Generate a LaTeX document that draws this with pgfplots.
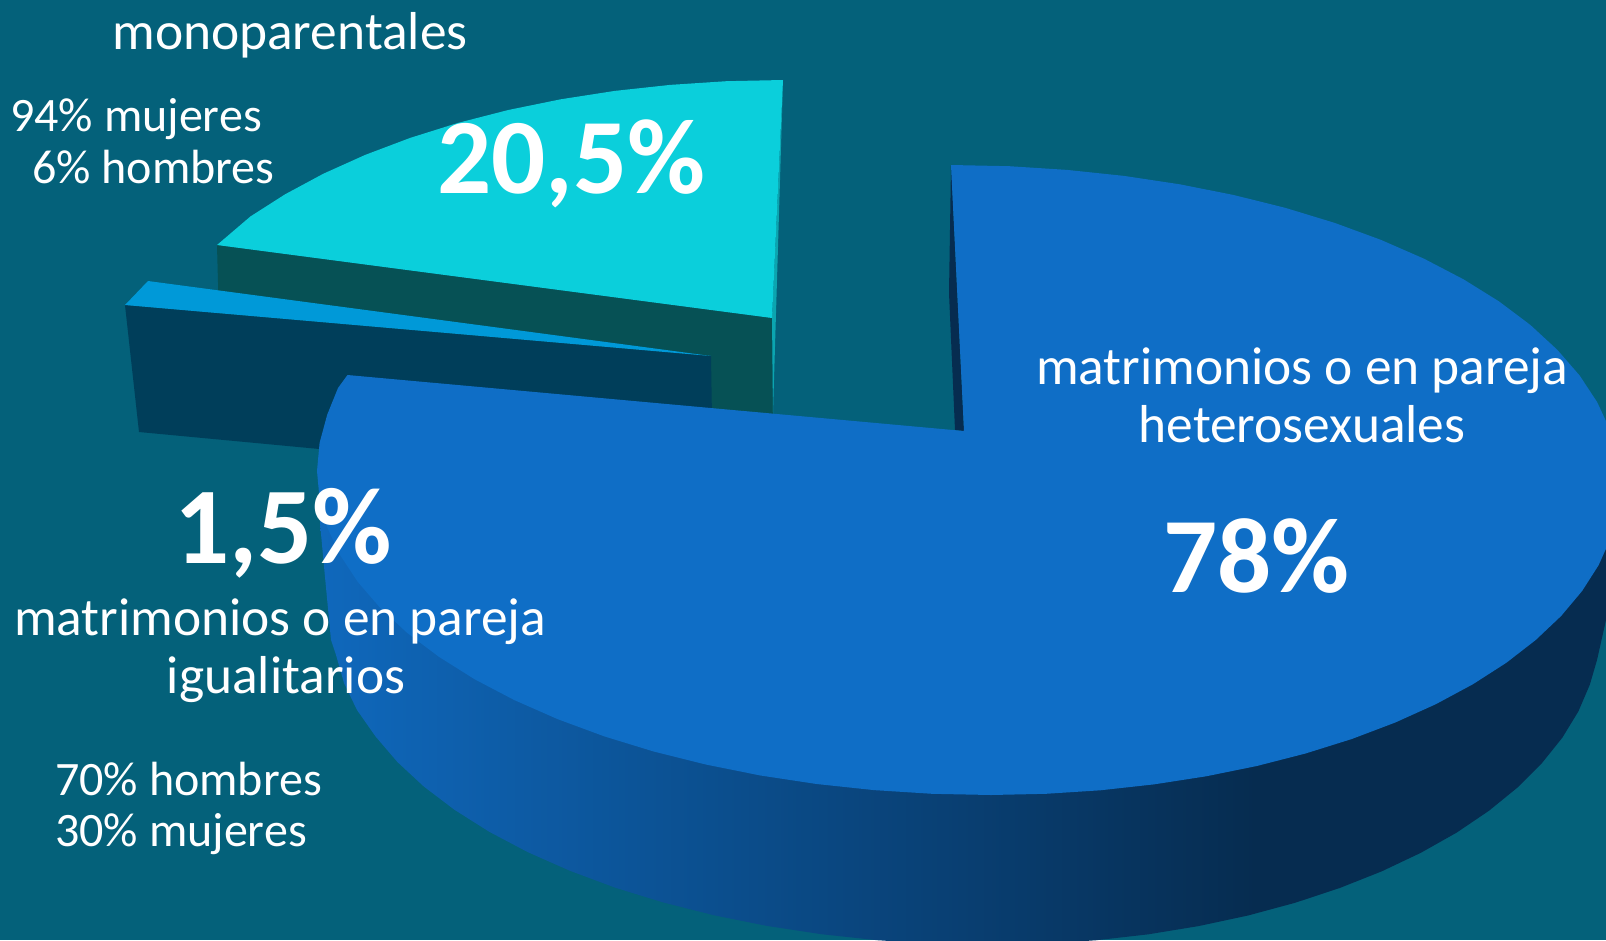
\documentclass[border=0pt]{standalone}
\usepackage{fontspec}
\setmainfont{Carlito}
\usepackage{pgfplots}
\pgfplotsset{compat=1.18}
\definecolor{bgc}{RGB}{4,97,122}
\definecolor{topblue}{RGB}{15,110,198}
\definecolor{cyanw}{RGB}{11,207,219}
\definecolor{cyans}{RGB}{11,165,176}
\definecolor{tealw}{RGB}{6,81,85}
\definecolor{lightw}{RGB}{0,153,216}
\definecolor{lights}{RGB}{0,62,90}
\definecolor{darkw}{RGB}{6,44,80}
\definecolor{wallA}{RGB}{15,104,188}
\pgfdeclarehorizontalshading{wall}{100bp}{color(0bp)=(wallA); color(25bp)=(wallA); color(61bp)=(darkw); color(100bp)=(darkw)}
\newcommand{\tx}[4]{\node[anchor=base #1,inner sep=0pt,text=white] at (axis cs:#2,#3) {#4};}
\newcommand{\fs}[1]{\fontsize{#1}{#1}\selectfont}
\begin{document}
\begin{tikzpicture}
\begin{axis}[
  scale only axis,width=1606pt,height=940pt,
  xmin=0,xmax=1606,ymin=0,ymax=940,y dir=reverse,
  axis lines=none,ticks=none]
% background
\addplot[fill=bgc,draw=none] coordinates {(0,0)(1606,0)(1606,940)(0,940)} --cycle;
% cyan wedge (monoparentales)
\addplot[fill=tealw,draw=none] coordinates {(217,245)(772,318)(773,425)(219,320)} --cycle;
\addplot[fill=cyans,draw=none] coordinates {(783,80)(772,317)(773,413)} --cycle;
\addplot[fill=cyanw,draw=none] coordinates {
 (783,80)(726.3,81.2)(670.1,84.9)(614.8,90.9)(560.7,99.3)(508.3,110)(458,122.9)(410.2,137.9)(365.2,154.9)(323.4,173.7)(285.1,194.3)(250.5,216.4)(217,245)(772,318)} --cycle;
% light wedge (igualitarios)
\addplot[fill=lights,draw=none] coordinates {(125,305)(711,356)(712,420)(330,450)(139,432)} --cycle;
\addplot[fill=lightw,draw=none] coordinates {(148,281)(711,356)(125,305)} --cycle;
% main wedge: inner side
\addplot[fill=darkw,draw=none] coordinates {(951,165)(949,293)(955,430)(964,431)} --cycle;
% main wedge: outer wall
\addplot[draw=none,shade,shading=wall] coordinates {
 (320,500)(320,523)(325,577)(331,640)(336,655)(344,683)(357,710)(375.5,736.4)(397.4,762)(423.8,786.5)(454.5,809.8)(489.3,831.8)(527.9,852.2)(570,870.8)(615.3,887.7)(663.5,902.5)(714.2,915.3)(767,925.9)(821.5,934.2)(877.3,940.2)(933.9,943.8)(991,945)(1044,943.8)(1096.6,940.2)(1148.4,934.3)(1199,926)(1248,915.5)(1295,902.8)(1339.7,888)(1381.8,871.3)(1421,852.7)(1456.8,832.5)(1489,810.7)(1517.5,787.5)(1542,763)(1562.3,737.7)(1578.3,711.5)(1589.8,684.7)(1597,660)(1606,620)(1620,500)} --cycle;
% main wedge: top
\addplot[fill=topblue,draw=none] coordinates {
 (951,165)(1009.3,166.2)(1067.1,169.9)(1124.1,175.9)(1179.8,184.3)(1233.7,195)(1285.5,207.9)(1334.7,222.9)(1381,239.9)(1424,258.7)(1463.5,279.3)(1499,301.4)(1530.4,325)(1557.3,349.8)(1579.7,375.6)(1597.2,402.2)(1609.8,429.4)(1617.5,457.1)(1620,485)
 (1617.6,512)(1610.4,538.8)(1598.6,565.2)(1582.1,591)(1561.1,616)(1535.7,640)(1506.3,662.8)(1472.8,684.3)(1435.8,704.2)(1395.3,722.5)(1351.8,739)(1305.5,753.5)(1256.8,766)(1206.1,776.3)(1153.8,784.4)(1100.2,790.3)(1045.8,793.8)(991,795)
 (932.2,793.8)(874,790.1)(816.6,784)(760.5,775.5)(706.2,764.6)(654,751.6)(604.4,736.4)(557.8,719.2)(514.4,700.1)(474.7,679.3)(438.9,656.8)(407.3,633)(380.2,607.9)(357.7,581.8)(340,554.9)(327.2,527.3)(319.6,499.2)(317,471)(319.6,442.8)(327.2,414.7)(338,388)(347.5,375)
 (964,431)} --cycle;
% text
\tx{}{290}{49}{\fs{53.4}monoparentales}
\tx{west}{10}{131}{\fs{48}94\% mujeres}
\tx{west}{32}{183}{\fs{48}6\% hombres}
\tx{west}{437}{193}{\fs{107}\bfseries 20,5\%}
\tx{west}{174}{563}{\fs{109}\bfseries 1,5\%}
\tx{west}{14}{635}{\fs{53.4}matrimonios o en pareja}
\tx{}{286}{693}{\fs{53.4}igualitarios}
\tx{west}{55}{795}{\fs{48}70\% hombres}
\tx{west}{55}{846}{\fs{48}30\% mujeres}
\tx{west}{1036}{384}{\fs{53.4}matrimonios o en pareja}
\tx{}{1302}{442}{\fs{53.4}heterosexuales}
\tx{west}{1163}{592}{\fs{107}\bfseries 78\%}
\end{axis}
\end{tikzpicture}
\end{document}
